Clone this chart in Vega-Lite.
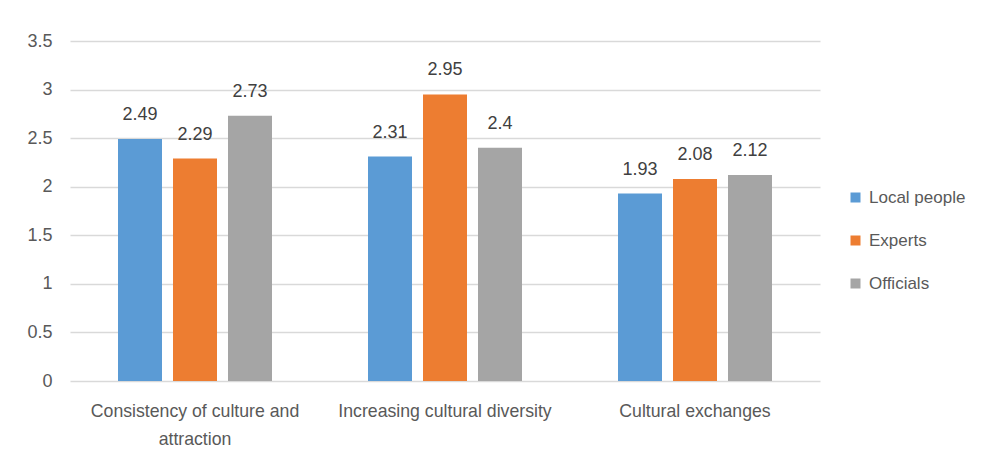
{
  "$schema": "https://vega.github.io/schema/vega-lite/v6.json",
  "width": 750,
  "height": 340,
  "autosize": {"type": "none"},
  "padding": {"left": 70, "top": 41, "right": 164, "bottom": 79},
  "background": "white",
  "config": {
    "view": {"stroke": null},
    "font": "Liberation Sans, Arial, sans-serif"
  },
  "data": {
    "values": [
      {"aspect": "Consistency of culture and attraction", "group": "Local people", "score": 2.49},
      {"aspect": "Consistency of culture and attraction", "group": "Experts", "score": 2.29},
      {"aspect": "Consistency of culture and attraction", "group": "Officials", "score": 2.73},
      {"aspect": "Increasing cultural diversity", "group": "Local people", "score": 2.31},
      {"aspect": "Increasing cultural diversity", "group": "Experts", "score": 2.95},
      {"aspect": "Increasing cultural diversity", "group": "Officials", "score": 2.4},
      {"aspect": "Cultural exchanges", "group": "Local people", "score": 1.93},
      {"aspect": "Cultural exchanges", "group": "Experts", "score": 2.08},
      {"aspect": "Cultural exchanges", "group": "Officials", "score": 2.12}
    ]
  },
  "encoding": {
    "x": {
      "field": "aspect",
      "type": "nominal",
      "sort": null,
      "title": null,
      "scale": {"paddingInner": 0.384, "paddingOuter": 0.192},
      "axis": {
        "domain": false,
        "ticks": false,
        "labelAngle": 0,
        "labelFontSize": 17.7,
        "labelColor": "#595959",
        "labelPadding": 21,
        "labelLineHeight": 28,
        "labelLimit": 300,
        "labelExpr": "datum.label == 'Consistency of culture and attraction' ? ['Consistency of culture and', 'attraction'] : datum.label"
      }
    },
    "xOffset": {
      "field": "group",
      "type": "nominal",
      "sort": ["Local people", "Experts", "Officials"],
      "scale": {"paddingInner": 0.2, "paddingOuter": 0}
    },
    "y": {
      "field": "score",
      "type": "quantitative",
      "title": null,
      "scale": {"domain": [0, 3.5], "nice": false},
      "axis": {
        "values": [0, 0.5, 1, 1.5, 2, 2.5, 3, 3.5],
        "format": ".1~f",
        "domain": false,
        "ticks": false,
        "gridColor": "#D9D9D9",
        "gridWidth": 1.5,
        "labelFontSize": 18,
        "labelColor": "#595959",
        "labelPadding": 18
      }
    }
  },
  "layer": [
    {
      "mark": {"type": "bar"},
      "encoding": {
        "color": {
          "field": "group",
          "type": "nominal",
          "sort": ["Local people", "Experts", "Officials"],
          "title": null,
          "scale": {
            "domain": ["Local people", "Experts", "Officials"],
            "range": ["#5B9BD5", "#ED7D31", "#A5A5A5"]
          },
          "legend": {
            "orient": "none",
            "legendX": 777,
            "legendY": 148,
            "padding": 0,
            "symbolType": "square",
            "symbolSize": 100,
            "symbolStrokeWidth": 0,
            "labelFontSize": 17,
            "labelColor": "#595959",
            "labelOffset": 5,
            "rowPadding": 25
          }
        }
      }
    },
    {
      "mark": {"type": "text", "baseline": "middle", "dy": -24, "fontSize": 18, "color": "#404040"},
      "encoding": {
        "text": {"field": "score", "type": "quantitative"}
      }
    }
  ]
}
